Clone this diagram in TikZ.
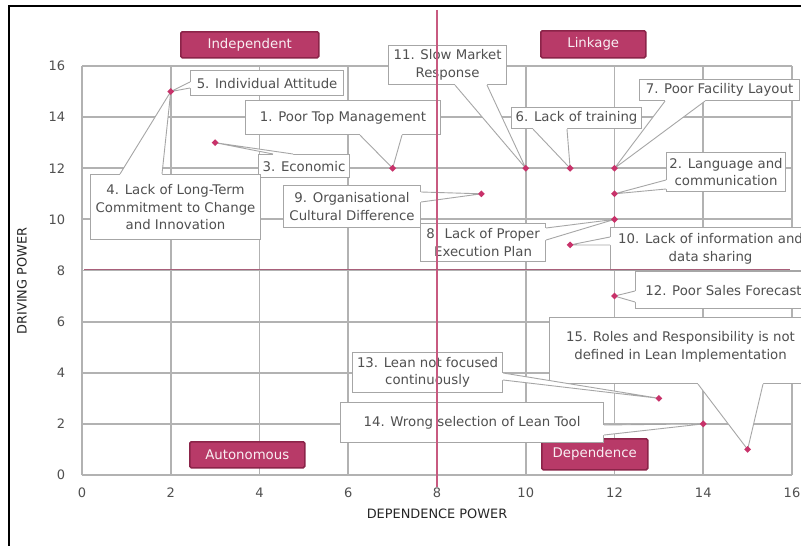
\documentclass[tikz,border=0pt]{standalone}
\usepackage{fontspec}
\setmainfont{DejaVu Sans}
\usetikzlibrary{calc,shapes.geometric}
\definecolor{gridc}{HTML}{B2B2B2}
\definecolor{txtc}{HTML}{505050}
\definecolor{quadf}{HTML}{B83A68}
\definecolor{quadd}{HTML}{8B2449}
\definecolor{pinkv}{HTML}{C85A80}
\definecolor{pinkh}{HTML}{A8607A}
\definecolor{markc}{HTML}{C8326A}
\definecolor{boxc}{HTML}{A6A6A6}
\tikzset{
 callbox/.style={draw=boxc, line width=1.1pt, fill=white, align=center, text=txtc,
   font=\fontsize{13.3}{17.5}\selectfont, inner sep=0pt, anchor=north west},
 callline/.style={draw=boxc, line width=0.9pt},
 quadbox/.style={draw=quadd, line width=1.5pt, fill=quadf, rounded corners=1.5pt, text=white!92!quadf,
   font=\fontsize{13.3}{15}\selectfont, inner sep=0pt, anchor=north west},
 marker/.style={diamond, fill=markc, minimum size=7pt, inner sep=0pt},
 gridline/.style={draw=gridc, line width=1.8pt},
 ticklab/.style={text=txtc, font=\fontsize{13}{15}\selectfont},
 axtitle/.style={text=black!85, font=\fontsize{12.9}{15}\selectfont},
}
\newcommand\callwedge[5]{%
 \fill[white] ($(#1)+(#4,#5)$) -- (#1) -- (#3) -- (#2) -- ($(#2)+(#4,#5)$) -- cycle;
 \draw[callline] (#1) -- (#3) -- (#2);}
\begin{document}
\begin{tikzpicture}[x=1pt,y=-1pt]
\useasboundingbox (0,0) rectangle (801,546);
\fill[white] (0,0) rectangle (801,546);
% frame
\draw[line width=2pt] (9,560) -- (9,6) -- (820,6);
% data scope
\begin{scope}[shift={(82,475)}, x=44.375pt, y=25.5625pt]
 \foreach \i in {0,2,...,16} {
   \draw[gridline] (\i,0) -- (\i,16);
   \draw[gridline] (0,\i) -- (16,\i);
   \node[ticklab, anchor=east] (ty\i) at (-0.3,\i) {\i};
   \node[ticklab] (tx\i) at (\i,-0.68) {\i};
 }
 \coordinate (p1) at (7,12);
 \coordinate (p2) at (12,11);
 \coordinate (p3) at (3,13);
 \coordinate (p45) at (2,15);
 \coordinate (p6) at (11,12);
 \coordinate (p7) at (12,12);
 \coordinate (p8) at (12,10);
 \coordinate (p9) at (9,11);
 \coordinate (p10) at (11,9);
 \coordinate (p11) at (10,12);
 \coordinate (p12) at (12,7);
 \coordinate (p13) at (13,3);
 \coordinate (p14) at (14,2);
 \coordinate (p15) at (15,1);
 \coordinate (vtop) at (8,18.2);
 \coordinate (vbot) at (8,-0.47);
 \coordinate (hl) at (0.05,8.05);
 \coordinate (hr) at (15.95,8.05);
\end{scope}
% axis titles
\node[axtitle, rotate=90] (ylab) at (22,281) {DRIVING POWER};
\node[axtitle] (xlab) at (437,514) {DEPENDENCE POWER};
% quadrant labels
\node[quadbox, minimum width=138pt, minimum height=26pt] (qi) at (180,31) {Independent};
\node[quadbox, minimum width=105pt, minimum height=27pt] (ql) at (540,30) {Linkage};
\node[quadbox, minimum width=115pt, minimum height=26pt] (qa) at (189,441) {Autonomous};
\node[quadbox, minimum width=106pt, minimum height=31pt] (qd) at (541,438) {Dependence};
% callouts
\node[callbox, minimum width=153pt, minimum height=25pt] (b5) at (190,70) {5. Individual Attitude};
\coordinate (w5a) at ($(b5.north west)+(0,12)$);
\coordinate (w5b) at ($(b5.north west)+(0,18)$);
\callwedge{w5a}{w5b}{p45}{2}{0}

\node[callbox, minimum width=195pt, minimum height=34pt] (b1) at (245,100) {1. Poor Top Management};
\coordinate (w1a) at ($(b1.south west)+(115,0)$);
\coordinate (w1b) at ($(b1.south west)+(157,0)$);
\callwedge{w1a}{w1b}{p1}{0}{-2}

\node[callbox, minimum width=91pt, minimum height=23pt] (b3) at (258,154) {3. Economic};
\coordinate (w3a) at ($(b3.north west)+(15,0)$);
\coordinate (w3b) at ($(b3.north west)+(35,0)$);
\callwedge{w3a}{w3b}{p3}{0}{2}

\node[callbox, minimum width=170pt, minimum height=65pt] (b4) at (90,174) {4. Lack of Long-Term\\Commitment to Change\\and Innovation};
\coordinate (w4a) at ($(b4.north west)+(30,0)$);
\coordinate (w4b) at ($(b4.north west)+(72,0)$);
\callwedge{w4a}{w4b}{p45}{0}{2}

\node[callbox, minimum width=137pt, minimum height=42pt] (b9) at (283,185) {9. Organisational\\Cultural Difference};
\coordinate (w9a) at ($(b9.north east)+(0,7)$);
\coordinate (w9b) at ($(b9.north east)+(0,17)$);
\callwedge{w9a}{w9b}{p9}{-2}{0}

\node[callbox, minimum width=118pt, minimum height=39pt] (b11) at (388,45) {11. Slow Market\\Response};
\coordinate (w11a) at ($(b11.south west)+(67,0)$);
\coordinate (w11b) at ($(b11.south west)+(99,0)$);
\callwedge{w11a}{w11b}{p11}{0}{-2}

\node[callbox, minimum width=130pt, minimum height=21pt] (b6) at (511,107) {6. Lack of training};
\coordinate (w6a) at ($(b6.south west)+(22,0)$);
\coordinate (w6b) at ($(b6.south west)+(56,0)$);
\callwedge{w6a}{w6b}{p6}{0}{-2}

\node[callbox, minimum width=160pt, minimum height=21pt] (b7) at (639,79) {7. Poor Facility Layout};
\coordinate (w7a) at ($(b7.south west)+(26,0)$);
\coordinate (w7b) at ($(b7.south west)+(66,0)$);
\callwedge{w7a}{w7b}{p7}{0}{-2}

\node[callbox, minimum width=119pt, minimum height=39pt] (b2) at (666,152) {2. Language and\\communication};
\coordinate (w2a) at ($(b2.north west)+(0,28)$);
\coordinate (w2b) at ($(b2.north west)+(0,37)$);
\callwedge{w2a}{w2b}{p2}{2}{0}

\node[callbox, minimum width=125pt, minimum height=38pt] (b8) at (420,223) {8. Lack of Proper\\Execution Plan};
\coordinate (w8a) at ($(b8.north east)+(0,5)$);
\coordinate (w8b) at ($(b8.north east)+(0,17)$);
\callwedge{w8a}{w8b}{p8}{-2}{0}

\node[callbox, minimum width=200pt, minimum height=43pt] (b10) at (610,227) {10. Lack of information and\\data sharing};
\coordinate (w10a) at ($(b10.north west)+(0,10)$);
\coordinate (w10b) at ($(b10.north west)+(0,18)$);
\callwedge{w10a}{w10b}{p10}{2}{0}

\node[callbox, minimum width=176pt, minimum height=37pt] (b12) at (635,271) {12. Poor Sales Forecast};
\coordinate (w12a) at ($(b12.north west)+(0,20)$);
\coordinate (w12b) at ($(b12.north west)+(0,31)$);
\callwedge{w12a}{w12b}{p12}{2}{0}

\node[callbox, minimum width=262pt, minimum height=66pt, text depth=10pt] (b15) at (549,317) {15. Roles and Responsibility is not\\defined in Lean Implementation};
\coordinate (w15a) at ($(b15.south west)+(149,0)$);
\coordinate (w15b) at ($(b15.south west)+(214,0)$);
\callwedge{w15a}{w15b}{p15}{0}{-2}

\node[callbox, minimum width=150pt, minimum height=40pt] (b13) at (352,352) {13. Lean not focused\\continuously};
\coordinate (w13a) at ($(b13.north east)+(0,21)$);
\coordinate (w13b) at ($(b13.north east)+(0,28)$);
\callwedge{w13a}{w13b}{p13}{-2}{0}

\node[callbox, minimum width=263pt, minimum height=40pt] (b14) at (340,402) {14. Wrong selection of Lean Tool};
\coordinate (w14a) at ($(b14.north east)+(0,23)$);
\coordinate (w14b) at ($(b14.north east)+(0,33)$);
\callwedge{w14a}{w14b}{p14}{-2}{0}

% quadrant dividing lines
\draw[pinkv, line width=1.3pt] (vtop) -- (vbot);
\draw[pinkh, line width=1.3pt] (hl) -- (hr);
% markers
\foreach \p in {p1,p2,p3,p45,p6,p7,p8,p9,p10,p11,p12,p13,p14,p15}
  \node[marker] (m\p) at (\p) {};
\end{tikzpicture}
\end{document}
